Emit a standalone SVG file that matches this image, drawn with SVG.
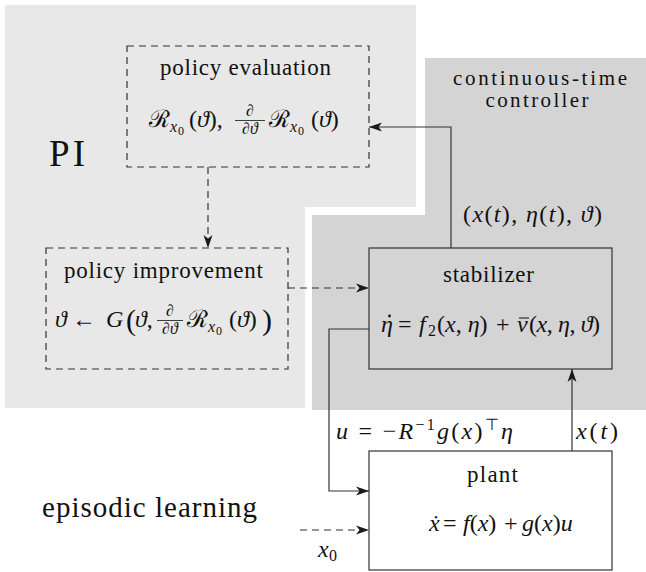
<svg xmlns="http://www.w3.org/2000/svg" width="646" height="572" viewBox="0 0 646 572">
<defs>
<style>
.t{fill:#111;font-family:'Liberation Serif',serif !important;}
.lbl{font-size:23px;}
.m{font-size:24px;}
.i{font-style:italic;}
.sub{font-size:16px;}
.sub2{font-size:12px;}
.fr{font-size:16px;}
.solid{fill:none;stroke:#333;stroke-width:1.2;}
.dash{fill:none;stroke:#333;stroke-width:1.2;stroke-dasharray:7,5;}
.box{stroke:#333;stroke-width:1.2;}
</style>
<marker id="ah" markerWidth="14" markerHeight="10" refX="13" refY="5" orient="auto" markerUnits="userSpaceOnUse">
<path d="M0,0.5 L13,5 L0,9.5 L3.5,5 z" fill="#1a1a1a"/>
</marker>
</defs>
<rect width="646" height="572" fill="#fff"/>
<g id="region-pi">
<polygon points="5,5 416,5 416,207 305,207 305,408 5,408" fill="#e8e8e8"/>
<text style="font-family:'Liberation Serif',serif" font-family="Liberation Serif" class="t" x="49" y="166" font-size="37" textLength="36">PI</text>
</g>
<g id="region-controller">
<polygon points="425,58 646,58 646,410 312,410 312,215 425,215" fill="#d4d4d4"/>
<text style="font-family:'Liberation Serif',serif" font-family="Liberation Serif" class="t" x="540" y="85" font-size="21" text-anchor="middle" textLength="174">continuous-time</text>
<text style="font-family:'Liberation Serif',serif" font-family="Liberation Serif" class="t" x="537" y="107" font-size="21" text-anchor="middle" textLength="103">controller</text>
</g>
<g id="episodic">
<text style="font-family:'Liberation Serif',serif" font-family="Liberation Serif" class="t" x="42" y="517" font-size="29" textLength="215">episodic learning</text>
</g>
<g id="policy-evaluation">
<rect x="127" y="46" width="242" height="121" fill="none" class="dash"/>
<text style="font-family:'Liberation Serif',serif" font-family="Liberation Serif" class="t lbl" x="160" y="75" textLength="171">policy evaluation</text>
<text style="font-family:'Liberation Serif',serif" font-family="Liberation Serif" class="t m" x="149" y="127">ℛ</text>
<text style="font-family:'Liberation Serif',serif" font-family="Liberation Serif" class="t sub i" x="170" y="132">x</text>
<text style="font-family:'Liberation Serif',serif" font-family="Liberation Serif" class="t sub2" x="178" y="135">0</text>
<text style="font-family:'Liberation Serif',serif" font-family="Liberation Serif" class="t m" x="189" y="127">(<tspan class="i">ϑ</tspan>),</text>
<text style="font-family:'Liberation Serif',serif" font-family="Liberation Serif" class="t fr" x="250" y="116" text-anchor="middle">∂</text>
<line x1="235" y1="120.5" x2="265" y2="120.5" stroke="#111" stroke-width="0.8"/>
<text style="font-family:'Liberation Serif',serif" font-family="Liberation Serif" class="t fr" x="250" y="134" text-anchor="middle">∂<tspan class="i">ϑ</tspan></text>
<text style="font-family:'Liberation Serif',serif" font-family="Liberation Serif" class="t m" x="269" y="127">ℛ</text>
<text style="font-family:'Liberation Serif',serif" font-family="Liberation Serif" class="t sub i" x="290" y="132">x</text>
<text style="font-family:'Liberation Serif',serif" font-family="Liberation Serif" class="t sub2" x="298" y="135">0</text>
<text style="font-family:'Liberation Serif',serif" font-family="Liberation Serif" class="t m" x="311" y="127">(<tspan class="i">ϑ</tspan>)</text>
</g>
<g id="policy-improvement">
<rect x="46" y="248" width="242" height="121" fill="none" class="dash"/>
<text style="font-family:'Liberation Serif',serif" font-family="Liberation Serif" class="t lbl" x="64" y="278" textLength="199">policy improvement</text>
<text style="font-family:'Liberation Serif',serif" font-family="Liberation Serif" class="t m i" x="55" y="327">ϑ</text>
<text style="font-family:'Liberation Serif',serif" font-family="Liberation Serif" class="t m" x="72" y="327" textLength="27">←</text>
<text style="font-family:'Liberation Serif',serif" font-family="Liberation Serif" class="t m i" x="106" y="327">G</text>
<text style="font-family:'Liberation Serif',serif" font-family="Liberation Serif" class="t" x="126" y="330" font-size="30">(</text>
<text style="font-family:'Liberation Serif',serif" font-family="Liberation Serif" class="t m" x="135" y="327"><tspan class="i">ϑ</tspan>,</text>
<text style="font-family:'Liberation Serif',serif" font-family="Liberation Serif" class="t fr" x="170" y="316" text-anchor="middle">∂</text>
<line x1="157" y1="320.5" x2="183" y2="320.5" stroke="#111" stroke-width="0.8"/>
<text style="font-family:'Liberation Serif',serif" font-family="Liberation Serif" class="t fr" x="170" y="334" text-anchor="middle">∂<tspan class="i">ϑ</tspan></text>
<text style="font-family:'Liberation Serif',serif" font-family="Liberation Serif" class="t m" x="187" y="327">ℛ</text>
<text style="font-family:'Liberation Serif',serif" font-family="Liberation Serif" class="t sub i" x="208" y="332">x</text>
<text style="font-family:'Liberation Serif',serif" font-family="Liberation Serif" class="t sub2" x="216" y="335">0</text>
<text style="font-family:'Liberation Serif',serif" font-family="Liberation Serif" class="t m" x="229" y="327">(<tspan class="i">ϑ</tspan>)</text>
<text style="font-family:'Liberation Serif',serif" font-family="Liberation Serif" class="t" x="262" y="330" font-size="30">)</text>
</g>
<g id="stabilizer">
<rect x="369" y="248" width="243" height="121" fill="none" class="box"/>
<text style="font-family:'Liberation Serif',serif" font-family="Liberation Serif" class="t lbl" x="443" y="282" textLength="91">stabilizer</text>
<text style="font-family:'Liberation Serif',serif" font-family="Liberation Serif" class="t m i" x="381" y="332">η</text>
<circle cx="389.5" cy="316" r="1.4" fill="#111"/>
<text style="font-family:'Liberation Serif',serif" font-family="Liberation Serif" class="t m" x="398" y="332">=</text>
<text style="font-family:'Liberation Serif',serif" font-family="Liberation Serif" class="t m i" x="419" y="332">f</text>
<text style="font-family:'Liberation Serif',serif" font-family="Liberation Serif" class="t sub" x="428" y="336">2</text>
<text style="font-family:'Liberation Serif',serif" font-family="Liberation Serif" class="t m" x="437" y="332">(<tspan class="i">x</tspan>, <tspan class="i">η</tspan>)</text>
<text style="font-family:'Liberation Serif',serif" font-family="Liberation Serif" class="t m" x="496" y="332">+</text>
<text style="font-family:'Liberation Serif',serif" font-family="Liberation Serif" class="t m i" x="517" y="332">v</text>
<line x1="519" y1="318" x2="529" y2="318" stroke="#111" stroke-width="1"/>
<text style="font-family:'Liberation Serif',serif" font-family="Liberation Serif" class="t m" x="529" y="332" textLength="71">(<tspan class="i">x</tspan>, <tspan class="i">η</tspan>, <tspan class="i">ϑ</tspan>)</text>
</g>
<g id="plant">
<rect x="369" y="451" width="243" height="119" fill="#fff" class="box"/>
<text style="font-family:'Liberation Serif',serif" font-family="Liberation Serif" class="t lbl" x="467" y="482" textLength="51">plant</text>
<text style="font-family:'Liberation Serif',serif" font-family="Liberation Serif" class="t m i" x="429" y="531">ẋ</text>
<text style="font-family:'Liberation Serif',serif" font-family="Liberation Serif" class="t m" x="443" y="531">=</text>
<text style="font-family:'Liberation Serif',serif" font-family="Liberation Serif" class="t m" x="463" y="531"><tspan class="i">f</tspan>(<tspan class="i">x</tspan>)</text>
<text style="font-family:'Liberation Serif',serif" font-family="Liberation Serif" class="t m" x="504" y="531">+</text>
<text style="font-family:'Liberation Serif',serif" font-family="Liberation Serif" class="t m" x="522" y="531"><tspan class="i">g</tspan>(<tspan class="i">x</tspan>)<tspan class="i">u</tspan></text>
</g>
<g id="connectors">
<line x1="208" y1="167" x2="208" y2="248" class="dash" marker-end="url(#ah)"/>
<line x1="288" y1="288" x2="369" y2="288" class="dash" marker-end="url(#ah)"/>
<polyline points="451,248 451,127 369,127" class="solid" marker-end="url(#ah)"/>
<polyline points="369,329 329,329 329,491 369,491" class="solid" marker-end="url(#ah)"/>
<line x1="572" y1="451" x2="572" y2="369" class="solid" marker-end="url(#ah)"/>
<line x1="300" y1="530" x2="369" y2="530" class="dash" marker-end="url(#ah)"/>
<text style="font-family:'Liberation Serif',serif" font-family="Liberation Serif" class="t m" x="463" y="222" textLength="139">(<tspan class="i">x</tspan>(<tspan class="i">t</tspan>), <tspan class="i">η</tspan>(<tspan class="i">t</tspan>), <tspan class="i">ϑ</tspan>)</text>
<text style="font-family:'Liberation Serif',serif" font-family="Liberation Serif" class="t m" x="336" y="439" textLength="177"><tspan class="i">u</tspan> = −<tspan class="i">R</tspan><tspan class="sub" dy="-9">−1</tspan><tspan class="i" dy="9">g</tspan>(<tspan class="i">x</tspan>)<tspan class="sub" dy="-9">⊤</tspan><tspan class="i" dy="9">η</tspan></text>
<text style="font-family:'Liberation Serif',serif" font-family="Liberation Serif" class="t m" x="576" y="439" textLength="42"><tspan class="i">x</tspan>(<tspan class="i">t</tspan>)</text>
<text style="font-family:'Liberation Serif',serif" font-family="Liberation Serif" class="t m i" x="318" y="557">x</text>
<text style="font-family:'Liberation Serif',serif" font-family="Liberation Serif" class="t sub" x="329" y="561">0</text>
</g>
</svg>
